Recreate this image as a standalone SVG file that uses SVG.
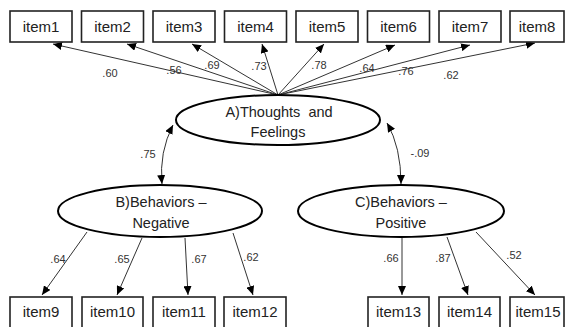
<svg xmlns="http://www.w3.org/2000/svg" width="567" height="327" viewBox="0 0 567 327">
<style>
.box{fill:#fff;stroke:#222;stroke-width:1.6}
.lat{fill:#fff;stroke:#000;stroke-width:2}
.t{font-family:"Liberation Sans",Arial,sans-serif;font-size:14.5px;fill:#222;text-anchor:middle}
.ti{font-family:"Liberation Sans",Arial,sans-serif;font-size:15px;fill:#222;text-anchor:middle}
.l{font-family:"Liberation Sans",Arial,sans-serif;font-size:11px;fill:#333;text-anchor:middle}
.c{fill:none;stroke:#333;stroke-width:1}
</style>
<defs>
<marker id="ah" markerUnits="userSpaceOnUse" markerWidth="10" markerHeight="8" refX="9" refY="4" orient="auto-start-reverse">
<path d="M0,0 L9,4 L0,8 Z" fill="#000"/>
</marker>
</defs>
<g id="connectors">
<path class="c" d="M278,95 L53,44" marker-end="url(#ah)"/>
<path class="c" d="M278,95 L127,44" marker-end="url(#ah)"/>
<path class="c" d="M278,95 L192,44" marker-end="url(#ah)"/>
<path class="c" d="M278,95 L262,44" marker-end="url(#ah)"/>
<path class="c" d="M278,95 L324,44" marker-end="url(#ah)"/>
<path class="c" d="M278,95 L395,45" marker-end="url(#ah)"/>
<path class="c" d="M278,95 L470,45" marker-end="url(#ah)"/>
<path class="c" d="M278,95 L535,43" marker-end="url(#ah)"/>
<path class="c" d="M173,125 Q159,152 162,184" marker-start="url(#ah)" marker-end="url(#ah)"/>
<path class="c" d="M387,123 Q401,147 401,184" marker-start="url(#ah)" marker-end="url(#ah)"/>
<path class="c" d="M87,232 L42,295" marker-end="url(#ah)"/>
<path class="c" d="M142,238 L117,295" marker-end="url(#ah)"/>
<path class="c" d="M185,238 L188,295" marker-end="url(#ah)"/>
<path class="c" d="M233,233 L253,295" marker-end="url(#ah)"/>
<path class="c" d="M402,238 L402,295" marker-end="url(#ah)"/>
<path class="c" d="M447,237 L468,295" marker-end="url(#ah)"/>
<path class="c" d="M476,232 L535,295" marker-end="url(#ah)"/>
<text class="l" x="110" y="77">.60</text>
<text class="l" x="174" y="74">.56</text>
<text class="l" x="212" y="69">.69</text>
<text class="l" x="259" y="70">.73</text>
<text class="l" x="319" y="69">.78</text>
<text class="l" x="367" y="72">.64</text>
<text class="l" x="406" y="75">.76</text>
<text class="l" x="451" y="79">.62</text>
<text class="l" x="148" y="158">.75</text>
<text class="l" x="420" y="157">-.09</text>
<text class="l" x="58" y="263">.64</text>
<text class="l" x="122" y="263">.65</text>
<text class="l" x="199" y="263">.67</text>
<text class="l" x="251" y="261">.62</text>
<text class="l" x="391" y="262">.66</text>
<text class="l" x="443" y="262">.87</text>
<text class="l" x="514" y="259">.52</text>
</g>
<g id="item1"><rect class="box" x="10" y="11" width="62" height="31"/><text class="ti" x="41" y="32">item1</text></g>
<g id="item2"><rect class="box" x="81.5" y="11" width="62" height="31"/><text class="ti" x="112.5" y="32">item2</text></g>
<g id="item3"><rect class="box" x="153" y="11" width="62" height="31"/><text class="ti" x="184" y="32">item3</text></g>
<g id="item4"><rect class="box" x="224.5" y="11" width="62" height="31"/><text class="ti" x="255.5" y="32">item4</text></g>
<g id="item5"><rect class="box" x="296" y="11" width="62" height="31"/><text class="ti" x="327" y="32">item5</text></g>
<g id="item6"><rect class="box" x="367.5" y="11" width="62" height="31"/><text class="ti" x="398.5" y="32">item6</text></g>
<g id="item7"><rect class="box" x="439" y="11" width="62" height="31"/><text class="ti" x="470" y="32">item7</text></g>
<g id="item8"><rect class="box" x="510" y="11" width="54" height="31"/><text class="ti" x="537" y="32">item8</text></g>
<g id="A"><ellipse class="lat" cx="278" cy="120" rx="102" ry="25"/><text class="t" x="279" y="117" xml:space="preserve">A)Thoughts  and</text><text class="t" x="278" y="137">Feelings</text></g>
<g id="B"><ellipse class="lat" cx="160" cy="211" rx="102" ry="26"/><text class="t" x="161" y="207">B)Behaviors –</text><text class="t" x="161" y="228">Negative</text></g>
<g id="C"><ellipse class="lat" cx="401" cy="211" rx="103" ry="26"/><text class="t" x="401" y="207">C)Behaviors –</text><text class="t" x="401" y="228">Positive</text></g>
<g id="item9"><rect class="box" x="10" y="297" width="62" height="34"/><text class="ti" x="41" y="317">item9</text></g>
<g id="item10"><rect class="box" x="82" y="297" width="61" height="34"/><text class="ti" x="112.5" y="317">item10</text></g>
<g id="item11"><rect class="box" x="153" y="297" width="62" height="34"/><text class="ti" x="184" y="317">item11</text></g>
<g id="item12"><rect class="box" x="224" y="297" width="62" height="34"/><text class="ti" x="255" y="317">item12</text></g>
<g id="item13"><rect class="box" x="368" y="297" width="61" height="34"/><text class="ti" x="398.5" y="317">item13</text></g>
<g id="item14"><rect class="box" x="439" y="297" width="61" height="34"/><text class="ti" x="469.5" y="317">item14</text></g>
<g id="item15"><rect class="box" x="510" y="297" width="54" height="34"/><text class="ti" x="538" y="317">item15</text></g>
</svg>
